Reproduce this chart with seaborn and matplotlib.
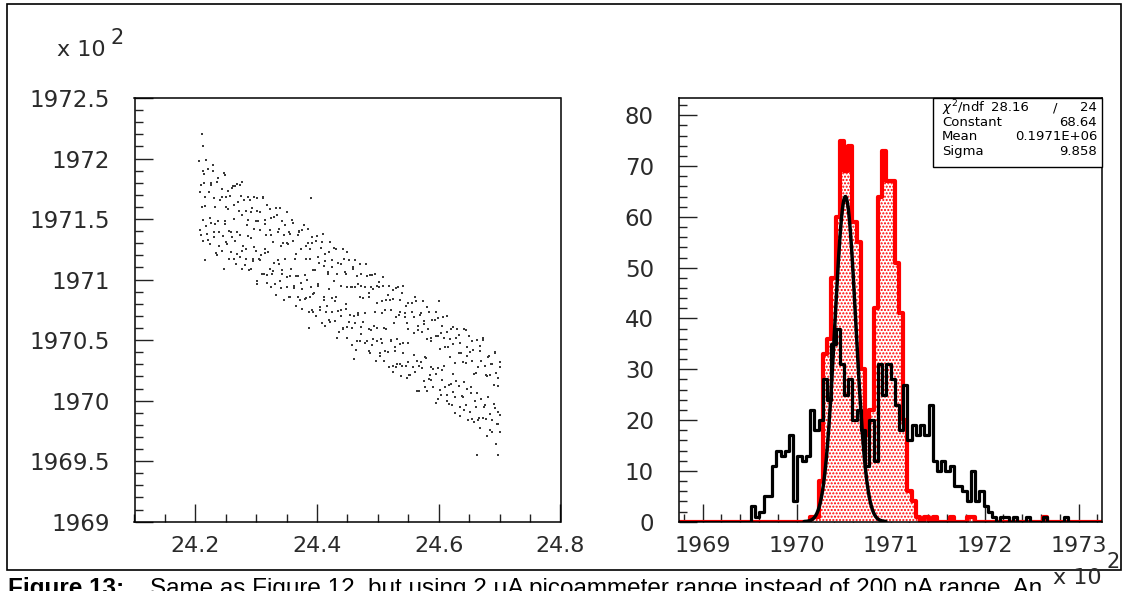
import matplotlib
matplotlib.use("Agg")
import matplotlib.pyplot as plt
import matplotlib.ticker as mticker
from matplotlib.patches import Rectangle
import numpy as np
import pandas as pd
import seaborn as sns

# ---------------- data ----------------
# histogram binning (x in units of 10^2)
bin_lo, bin_hi, n_bins = 1968.75, 1973.25, 100

black_counts = [0] * 17 + [
    3, 1, 2, 5, 5, 11, 14, 13, 14, 17,      # 17-26
    4, 13, 12, 13, 22, 18, 20, 28, 24, 35,  # 27-36
    38, 31, 25, 28, 20, 22, 18, 11, 20, 12,  # 37-46
    31, 25, 31, 28, 23, 18, 27, 16, 19, 17,  # 47-56
    19, 17, 23, 12, 10, 12, 10, 11, 7, 7,    # 57-66
    6, 4, 10, 4, 6, 3, 2, 1, 0, 1,           # 67-76
    1, 0, 1, 0, 0, 1, 0, 0, 0, 1,            # 77-86
    0, 0, 0, 0, 1, 0, 0, 0, 0, 0,            # 87-96
    0, 0, 0]                                 # 97-99

red_counts = [0] * 31 + [
    1, 1, 8, 33, 36, 48, 60, 75, 69, 74,     # 31-40
    59, 55, 30, 17, 22, 42, 64, 73, 67, 67,  # 41-50
    51, 41, 20, 6, 4, 1, 0, 1, 0, 1,         # 51-60
    0, 0, 0, 1, 0, 0, 0, 1, 1, 0,            # 61-70
    0, 0, 0, 0, 0, 0, 0, 0, 0, 0,            # 71-80
    0, 0, 0, 0, 0, 1, 0, 0, 0, 0,            # 81-90
    0, 0, 0, 0, 0, 0, 0, 0, 0]               # 91-99

# gaussian fit drawn on the first peak
fit_const, fit_mean, fit_sigma = 64.0, 1970.52, 0.112
fit_lo, fit_hi = 1970.08, 1970.95

stats_rows = [("Constant", "68.64"), ("Mean", "0.1971E+06"), ("Sigma", "9.858")]

# scatter (left panel): two drifting bands, read in two passes each
upper_band = [
    (24.206, 1971.98), (24.209, 1971.78), (24.214, 1971.87), (24.216, 1971.68), (24.220, 1971.91),
    (24.226, 1971.78), (24.229, 1971.95), (24.231, 1971.67), (24.236, 1971.81), (24.240, 1971.66),
    (24.243, 1971.75), (24.248, 1971.86), (24.250, 1971.68), (24.254, 1971.58), (24.260, 1971.76),
    (24.263, 1971.62), (24.265, 1971.77), (24.270, 1971.64), (24.274, 1971.78), (24.277, 1971.53),
    (24.280, 1971.66), (24.285, 1971.45), (24.287, 1971.68), (24.291, 1971.56), (24.297, 1971.68),
    (24.300, 1971.48), (24.302, 1971.57), (24.307, 1971.41), (24.311, 1971.67), (24.314, 1971.46),
    (24.317, 1971.62), (24.322, 1971.41), (24.324, 1971.51), (24.328, 1971.31), (24.334, 1971.53),
    (24.337, 1971.42), (24.339, 1971.59), (24.344, 1971.30), (24.348, 1971.45), (24.351, 1971.30),
    (24.354, 1971.39), (24.359, 1971.49), (24.361, 1971.32), (24.365, 1971.21), (24.371, 1971.39),
    (24.374, 1971.25), (24.376, 1971.41), (24.381, 1971.28), (24.385, 1971.42), (24.388, 1971.17),
    (24.391, 1971.30), (24.396, 1971.08), (24.398, 1971.32), (24.402, 1971.19), (24.408, 1971.31),
    (24.411, 1971.11), (24.413, 1971.21), (24.418, 1971.05), (24.422, 1971.31), (24.425, 1971.10),
    (24.428, 1971.26), (24.433, 1971.05), (24.435, 1971.14), (24.439, 1970.95), (24.445, 1971.17),
    (24.448, 1971.05), (24.450, 1971.23), (24.455, 1970.94), (24.459, 1971.09), (24.462, 1970.94),
    (24.465, 1971.03), (24.470, 1971.13), (24.472, 1970.95), (24.476, 1970.85), (24.482, 1971.03),
    (24.485, 1970.89), (24.487, 1971.04), (24.492, 1970.92), (24.496, 1971.05), (24.499, 1970.81),
    (24.502, 1970.94), (24.507, 1970.72), (24.509, 1970.95), (24.513, 1970.83), (24.519, 1970.95),
    (24.522, 1970.75), (24.524, 1970.84), (24.529, 1970.69), (24.533, 1970.94), (24.536, 1970.73),
    (24.539, 1970.89), (24.544, 1970.69), (24.546, 1970.78), (24.550, 1970.59), (24.556, 1970.81),
    (24.559, 1970.69), (24.561, 1970.86), (24.566, 1970.58), (24.570, 1970.72), (24.573, 1970.57),
    (24.576, 1970.66), (24.581, 1970.77), (24.583, 1970.59), (24.587, 1970.49), (24.593, 1970.67),
    (24.596, 1970.53), (24.598, 1970.68), (24.603, 1970.56), (24.607, 1970.69), (24.610, 1970.44),
    (24.613, 1970.57), (24.618, 1970.36), (24.620, 1970.59), (24.624, 1970.47), (24.630, 1970.59),
    (24.633, 1970.39), (24.635, 1970.48), (24.640, 1970.32), (24.644, 1970.58), (24.647, 1970.37),
    (24.650, 1970.53), (24.655, 1970.33), (24.657, 1970.42), (24.661, 1970.23), (24.667, 1970.45),
    (24.670, 1970.33), (24.672, 1970.50), (24.677, 1970.21), (24.681, 1970.36), (24.684, 1970.21),
    (24.687, 1970.30), (24.692, 1970.40), (24.694, 1970.23), (24.698, 1970.12), (24.700, 1970.32),
]
upper_band_b = [
    (24.208, 1971.72), (24.212, 1971.90), (24.215, 1971.80), (24.218, 1971.99), (24.223, 1971.72),
    (24.225, 1971.80), (24.229, 1971.90), (24.233, 1971.60), (24.236, 1971.81), (24.238, 1971.84),
    (24.244, 1971.68), (24.247, 1971.88), (24.251, 1971.60), (24.254, 1971.73), (24.257, 1971.69),
    (24.262, 1971.77), (24.264, 1971.50), (24.268, 1971.79), (24.272, 1971.57), (24.275, 1971.69),
    (24.277, 1971.81), (24.283, 1971.57), (24.286, 1971.49), (24.290, 1971.66), (24.293, 1971.59),
    (24.296, 1971.42), (24.301, 1971.67), (24.303, 1971.48), (24.307, 1971.56), (24.311, 1971.68),
    (24.314, 1971.49), (24.316, 1971.37), (24.322, 1971.58), (24.325, 1971.37), (24.329, 1971.52),
    (24.332, 1971.59), (24.335, 1971.39), (24.340, 1971.28), (24.342, 1971.48), (24.346, 1971.37),
    (24.350, 1971.56), (24.353, 1971.29), (24.355, 1971.38), (24.361, 1971.47), (24.364, 1971.17),
    (24.368, 1971.37), (24.371, 1971.40), (24.374, 1971.25), (24.379, 1971.45), (24.381, 1971.17),
    (24.385, 1971.30), (24.389, 1971.25), (24.392, 1971.35), (24.394, 1971.08), (24.400, 1971.36),
    (24.403, 1971.14), (24.407, 1971.26), (24.410, 1971.38), (24.413, 1971.15), (24.418, 1971.06),
    (24.420, 1971.23), (24.424, 1971.16), (24.428, 1970.99), (24.431, 1971.25), (24.433, 1971.05),
    (24.439, 1971.13), (24.442, 1971.25), (24.446, 1971.06), (24.449, 1970.94), (24.452, 1971.16),
    (24.457, 1970.94), (24.459, 1971.10), (24.463, 1971.16), (24.467, 1970.96), (24.470, 1970.86),
    (24.472, 1971.05), (24.478, 1970.94), (24.481, 1971.13), (24.485, 1970.86), (24.488, 1970.94),
    (24.491, 1971.04), (24.496, 1970.73), (24.498, 1970.95), (24.502, 1970.98), (24.506, 1970.82),
    (24.509, 1971.02), (24.511, 1970.75), (24.517, 1970.87), (24.520, 1970.83), (24.524, 1970.91),
    (24.527, 1970.64), (24.530, 1970.93), (24.535, 1970.71), (24.537, 1970.83), (24.541, 1970.95),
    (24.545, 1970.72), (24.548, 1970.64), (24.550, 1970.81), (24.556, 1970.73), (24.559, 1970.56),
    (24.563, 1970.82), (24.566, 1970.62), (24.569, 1970.71), (24.574, 1970.82), (24.576, 1970.63),
    (24.580, 1970.51), (24.584, 1970.73), (24.587, 1970.52), (24.589, 1970.67), (24.595, 1970.73),
    (24.598, 1970.53), (24.602, 1970.43), (24.605, 1970.62), (24.608, 1970.52), (24.613, 1970.70),
    (24.615, 1970.44), (24.619, 1970.51), (24.623, 1970.61), (24.626, 1970.31), (24.628, 1970.52),
    (24.634, 1970.54), (24.637, 1970.39), (24.641, 1970.59), (24.644, 1970.31), (24.647, 1970.44),
    (24.652, 1970.40), (24.654, 1970.49), (24.658, 1970.22), (24.662, 1970.50), (24.665, 1970.28),
    (24.667, 1970.41), (24.673, 1970.52), (24.676, 1970.29), (24.680, 1970.20), (24.683, 1970.37),
    (24.686, 1970.30), (24.691, 1970.13), (24.693, 1970.39), (24.697, 1970.19), (24.700, 1970.28),
]
lower_band = [
    (24.207, 1971.41), (24.211, 1971.60), (24.213, 1971.32), (24.218, 1971.44), (24.221, 1971.33),
    (24.224, 1971.51), (24.230, 1971.35), (24.232, 1971.46), (24.236, 1971.20), (24.239, 1971.39),
    (24.244, 1971.24), (24.248, 1971.46), (24.250, 1971.31), (24.255, 1971.40), (24.258, 1971.23),
    (24.261, 1971.35), (24.267, 1971.13), (24.269, 1971.21), (24.273, 1971.37), (24.276, 1971.24),
    (24.281, 1971.12), (24.283, 1971.25), (24.288, 1971.08), (24.291, 1971.34), (24.294, 1971.15),
    (24.300, 1971.24), (24.302, 1970.99), (24.306, 1971.16), (24.309, 1971.05), (24.314, 1971.22),
    (24.318, 1971.04), (24.320, 1971.23), (24.325, 1970.94), (24.328, 1971.07), (24.331, 1970.96),
    (24.337, 1971.13), (24.339, 1970.99), (24.343, 1971.08), (24.346, 1970.83), (24.351, 1971.02),
    (24.355, 1970.86), (24.357, 1971.09), (24.362, 1970.93), (24.365, 1971.03), (24.368, 1970.86),
    (24.374, 1970.97), (24.376, 1970.76), (24.380, 1970.84), (24.383, 1971.00), (24.388, 1970.86),
    (24.392, 1970.75), (24.394, 1970.88), (24.399, 1970.70), (24.402, 1970.96), (24.405, 1970.77),
    (24.411, 1970.86), (24.413, 1970.62), (24.417, 1970.78), (24.420, 1970.67), (24.425, 1970.85),
    (24.429, 1970.66), (24.431, 1970.86), (24.436, 1970.57), (24.439, 1970.70), (24.442, 1970.59),
    (24.448, 1970.76), (24.450, 1970.61), (24.454, 1970.71), (24.457, 1970.46), (24.462, 1970.64),
    (24.466, 1970.49), (24.468, 1970.72), (24.473, 1970.55), (24.476, 1970.65), (24.479, 1970.48),
    (24.485, 1970.59), (24.487, 1970.39), (24.491, 1970.46), (24.494, 1970.62), (24.499, 1970.49),
    (24.503, 1970.37), (24.505, 1970.51), (24.510, 1970.33), (24.513, 1970.59), (24.516, 1970.40),
    (24.522, 1970.49), (24.524, 1970.24), (24.528, 1970.41), (24.531, 1970.30), (24.536, 1970.47),
    (24.540, 1970.29), (24.542, 1970.48), (24.547, 1970.19), (24.550, 1970.32), (24.553, 1970.21),
    (24.559, 1970.38), (24.561, 1970.24), (24.565, 1970.33), (24.568, 1970.08), (24.573, 1970.27),
    (24.577, 1970.11), (24.579, 1970.35), (24.584, 1970.18), (24.587, 1970.28), (24.590, 1970.11),
    (24.596, 1970.22), (24.598, 1970.01), (24.602, 1970.09), (24.605, 1970.25), (24.610, 1970.11),
    (24.614, 1970.00), (24.616, 1970.13), (24.621, 1969.96), (24.624, 1970.22), (24.627, 1970.03),
    (24.633, 1970.12), (24.635, 1969.87), (24.639, 1970.03), (24.642, 1969.92), (24.647, 1970.10),
    (24.651, 1969.91), (24.653, 1970.11), (24.658, 1969.82), (24.661, 1969.95), (24.664, 1969.84),
    (24.670, 1970.01), (24.672, 1969.86), (24.676, 1969.96), (24.679, 1969.71), (24.684, 1969.89),
    (24.688, 1969.74), (24.690, 1969.97), (24.695, 1969.81), (24.698, 1969.91), (24.700, 1969.74),
]
lower_band_b = [
    (24.209, 1971.37), (24.213, 1971.49), (24.216, 1971.61), (24.219, 1971.38), (24.224, 1971.29),
    (24.226, 1971.47), (24.230, 1971.39), (24.234, 1971.22), (24.237, 1971.48), (24.239, 1971.28),
    (24.245, 1971.36), (24.248, 1971.48), (24.252, 1971.29), (24.255, 1971.17), (24.258, 1971.39),
    (24.263, 1971.17), (24.265, 1971.32), (24.269, 1971.39), (24.273, 1971.19), (24.276, 1971.09),
    (24.278, 1971.28), (24.284, 1971.17), (24.287, 1971.36), (24.291, 1971.09), (24.294, 1971.17),
    (24.297, 1971.27), (24.302, 1970.96), (24.304, 1971.17), (24.308, 1971.20), (24.312, 1971.05),
    (24.315, 1971.25), (24.317, 1970.97), (24.323, 1971.09), (24.326, 1971.05), (24.330, 1971.14),
    (24.333, 1970.87), (24.336, 1971.16), (24.341, 1970.93), (24.343, 1971.05), (24.347, 1971.17),
    (24.351, 1970.94), (24.354, 1970.86), (24.356, 1971.03), (24.362, 1970.95), (24.365, 1970.78),
    (24.369, 1971.03), (24.372, 1970.83), (24.375, 1970.92), (24.380, 1971.04), (24.382, 1970.85),
    (24.386, 1970.73), (24.390, 1970.94), (24.393, 1970.73), (24.395, 1970.89), (24.401, 1970.95),
    (24.404, 1970.75), (24.408, 1970.64), (24.411, 1970.83), (24.414, 1970.73), (24.419, 1970.92),
    (24.421, 1970.65), (24.425, 1970.73), (24.429, 1970.82), (24.432, 1970.52), (24.434, 1970.74),
    (24.440, 1970.75), (24.443, 1970.60), (24.447, 1970.80), (24.450, 1970.52), (24.453, 1970.65),
    (24.458, 1970.60), (24.460, 1970.70), (24.464, 1970.42), (24.468, 1970.71), (24.471, 1970.49),
    (24.473, 1970.61), (24.479, 1970.72), (24.482, 1970.49), (24.486, 1970.41), (24.489, 1970.58),
    (24.492, 1970.51), (24.497, 1970.33), (24.499, 1970.60), (24.503, 1970.39), (24.507, 1970.48),
    (24.510, 1970.60), (24.512, 1970.41), (24.518, 1970.28), (24.521, 1970.50), (24.525, 1970.29),
    (24.528, 1970.44), (24.531, 1970.51), (24.536, 1970.30), (24.538, 1970.20), (24.542, 1970.39),
    (24.546, 1970.29), (24.549, 1970.48), (24.551, 1970.21), (24.557, 1970.28), (24.560, 1970.38),
    (24.564, 1970.08), (24.567, 1970.29), (24.570, 1970.32), (24.575, 1970.16), (24.577, 1970.36),
    (24.581, 1970.08), (24.585, 1970.21), (24.588, 1970.17), (24.590, 1970.26), (24.596, 1969.98),
    (24.599, 1970.27), (24.603, 1970.05), (24.606, 1970.17), (24.609, 1970.29), (24.614, 1970.05),
    (24.616, 1969.97), (24.620, 1970.14), (24.624, 1970.07), (24.627, 1969.90), (24.629, 1970.16),
    (24.635, 1969.95), (24.638, 1970.04), (24.642, 1970.15), (24.645, 1969.96), (24.648, 1969.84),
    (24.653, 1970.06), (24.655, 1969.85), (24.659, 1970.00), (24.663, 1970.06), (24.666, 1969.86),
    (24.668, 1969.77), (24.674, 1969.95), (24.677, 1969.85), (24.681, 1970.03), (24.684, 1969.76),
    (24.687, 1969.84), (24.692, 1969.94), (24.694, 1969.64), (24.698, 1969.81), (24.700, 1969.88),
]
stray_points = [
    (24.211, 1972.20), (24.212, 1972.10), (24.216, 1971.16), (24.247, 1971.09),
    (24.390, 1971.67), (24.387, 1970.60), (24.460, 1970.34), (24.663, 1969.55),
    (24.697, 1969.55), (24.530, 1970.28), (24.600, 1970.82),
]

# ---------------- style ----------------
sns.set_style("ticks")
plt.rcParams["font.family"] = ["DejaVu Sans"]
plt.rcParams["hatch.color"] = "red"
plt.rcParams["hatch.linewidth"] = 1.0

W, H = 1127, 591
TXT = "#2a2a2a"


def fx(px):
    return px / W


def fy(py):
    return 1 - py / H


def box(left, top, right, bottom):
    return [fx(left), fy(bottom), (right - left) / W, (bottom - top) / H]


fig = plt.figure(figsize=(W / 100, H / 100), dpi=100)
ax1 = fig.add_axes(box(134.5, 98, 560.5, 521.7))
ax2 = fig.add_axes(box(679, 98, 1102, 521.7))

# ---------------- left: scatter ----------------
pts = pd.DataFrame(upper_band + upper_band_b + lower_band + lower_band_b + stray_points,
                   columns=["x", "y"])
sns.scatterplot(data=pts, x="x", y="y", ax=ax1, s=2.2, color="#3a3a3a",
                linewidth=0, marker="s")
ax1.set_xlim(24.1, 24.8)
ax1.set_ylim(1969, 1972.5)
ax1.xaxis.set_major_locator(mticker.FixedLocator([24.2, 24.4, 24.6, 24.8]))
ax1.xaxis.set_minor_locator(mticker.MultipleLocator(0.05))
ax1.yaxis.set_major_locator(mticker.MultipleLocator(0.5))
ax1.yaxis.set_minor_locator(mticker.MultipleLocator(0.1))

# ---------------- right: histograms ----------------
bin_w = (bin_hi - bin_lo) / n_bins
centers = bin_lo + bin_w * (np.arange(n_bins) + 0.5)
hist = pd.DataFrame({"x": centers, "black": black_counts, "red": red_counts})
hkw = dict(data=hist, x="x", bins=n_bins, binrange=(bin_lo, bin_hi),
           element="step", ax=ax2)

sns.histplot(weights="red", fill=True, color="red", **hkw)
fill = ax2.collections[-1]
fill.set_facecolor("white")
fill.set_edgecolor("red")
fill.set_alpha(1)
fill.set_linewidth(0)
fill.set_hatch(".....")

sns.histplot(weights="red", fill=False, color="red", linewidth=3, **hkw)
sns.histplot(weights="black", fill=False, color="black", linewidth=2.3, **hkw)

fit_x = np.linspace(fit_lo, fit_hi, 300)
fit_y = fit_const * np.exp(-0.5 * ((fit_x - fit_mean) / fit_sigma) ** 2)
sns.lineplot(x=fit_x, y=fit_y, ax=ax2, color="black", linewidth=2.5)

ax2.set_xlim(bin_lo, bin_hi)
ax2.set_ylim(0, 83.4)
ax2.xaxis.set_major_locator(mticker.MultipleLocator(1))
ax2.xaxis.set_minor_locator(mticker.MultipleLocator(0.2))
ax2.yaxis.set_major_locator(mticker.MultipleLocator(10))
ax2.yaxis.set_minor_locator(mticker.MultipleLocator(2))

# ---------------- ROOT-like axes ----------------
for ax in (ax1, ax2):
    ax.set_xlabel("")
    ax.set_ylabel("")
    ax.xaxis.set_major_formatter(mticker.FuncFormatter(lambda v, p: f"{v:g}"))
    ax.yaxis.set_major_formatter(mticker.FuncFormatter(lambda v, p: f"{v:g}"))
    for sp in ax.spines.values():
        sp.set_visible(True)
        sp.set_linewidth(1.1)
        sp.set_color("black")
    ax.tick_params(which="both", direction="in", top=False, right=False,
                   color="#222222", width=1.0)
    ax.tick_params(which="major", length=13)
    ax.tick_params(which="minor", length=6)
    ax.tick_params(axis="x", which="major", pad=10, labelsize=16, labelcolor=TXT)
    ax.tick_params(axis="y", which="major", pad=18, labelsize=16.5, labelcolor=TXT)

# stats box
fig.add_artist(Rectangle((fx(933), fy(166.7)), (1102 - 933) / W, (166.7 - 98) / H,
                         transform=fig.transFigure, facecolor="white",
                         edgecolor="black", linewidth=1.0))
stat_kw = dict(fontsize=9.5, color="black", va="center")
fig.text(fx(942), fy(107.7), r"$\chi^2$/ndf", ha="left", **stat_kw)
fig.text(fx(1029), fy(107.7), "28.16", ha="right", **stat_kw)
fig.text(fx(1055), fy(107.7), "/", ha="center", **stat_kw)
fig.text(fx(1097), fy(107.7), "24", ha="right", **stat_kw)
for k, (name, val) in enumerate(stats_rows):
    yy = 122.3 + 14.4 * k
    fig.text(fx(942), fy(yy), name, ha="left", **stat_kw)
    fig.text(fx(1097), fy(yy), val, ha="right", **stat_kw)

# exponent labels
fig.text(fx(57), fy(50), "x 10", fontsize=16, color=TXT, va="center", ha="left")
fig.text(fx(111), fy(38), "2", fontsize=15, color=TXT, va="center", ha="left")
fig.text(fx(1053), fy(578.5), "x 10", fontsize=16, color=TXT, va="center", ha="left")
fig.text(fx(1107), fy(561.5), "2", fontsize=15, color=TXT, va="center", ha="left")

# outer frame
fig.add_artist(Rectangle((fx(7), fy(569.5)), (1121 - 7) / W, (569.5 - 3.5) / H,
                         transform=fig.transFigure, fill=False,
                         edgecolor="black", linewidth=1.2))

# caption (cut off by the page edge, as in the source)
cap_kw = dict(fontsize=17.5, color="black", va="top", family=["Liberation Sans", "DejaVu Sans"])
fig.text(fx(8), fy(577.5), "Figure 13:", weight="bold", **cap_kw)
fig.text(fx(150), fy(577.5),
         "Same as Figure 12, but using 2 \u03bcA picoammeter range instead of 200 pA range. An",
         **cap_kw)

fig.savefig("out.png", dpi=100)
